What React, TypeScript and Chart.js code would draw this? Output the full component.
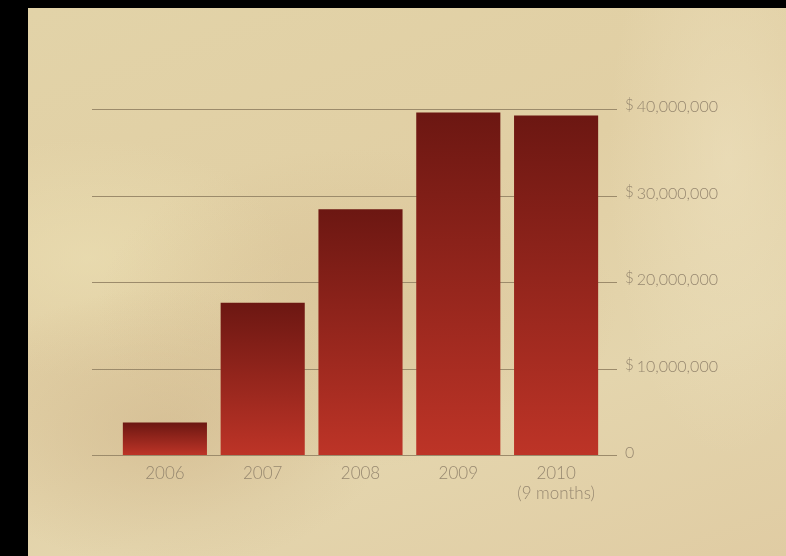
import React, { useEffect, useRef } from "react";
import { Chart, registerables } from "chart.js";

Chart.register(...registerables);

const categories: (string | string[])[] = ["2006", "2007", "2008", "2009", ["2010", "(9 months)"]];
const revenue: number[] = [3750000, 17600000, 28400000, 39600000, 39250000];
const yTickValues: number[] = [0, 10000000, 20000000, 30000000, 40000000];
const yTickNumbers: string[] = ["0", "10,000,000", "20,000,000", "30,000,000", "40,000,000"];
const yTickPrefix: string[] = ["", "$", "$", "$", "$"];

const TEXT = "#978870";
const GRID = "#9c8b6b";
const FONT = "Lato, 'Open Sans', sans-serif";

const gridPlugin = {
  id: "extGrid",
  beforeDatasetsDraw(chart: any) {
    const { ctx, chartArea, scales } = chart;
    const y = scales.y;
    ctx.save();
    ctx.strokeStyle = GRID;
    ctx.lineWidth = 1.2;
    yTickValues.forEach((v) => {
      const py = Math.round(y.getPixelForValue(v)) + 0.5;
      ctx.beginPath();
      ctx.moveTo(chartArea.left - 24, py);
      ctx.lineTo(chartArea.right + 12, py);
      ctx.stroke();
    });
    ctx.restore();
  },
  afterDraw(chart: any) {
    const { ctx, chartArea, scales } = chart;
    const y = scales.y;
    ctx.save();
    ctx.fillStyle = TEXT;
    ctx.textBaseline = "alphabetic";
    ctx.textAlign = "left";
    yTickValues.forEach((v, i) => {
      const py = y.getPixelForValue(v);
      let x = chartArea.right + 20;
      const pre = yTickPrefix[i];
      if (pre) {
        ctx.font = `300 15px ${FONT}`;
        ctx.fillText(pre, x, py + 1);
        x += ctx.measureText(pre).width + 3;
      }
      ctx.font = `300 16px ${FONT}`;
      ctx.fillText(yTickNumbers[i], x, py + 3);
    });
    ctx.restore();
  },
};

export default function App() {
  const ref = useRef<HTMLCanvasElement | null>(null);

  useEffect(() => {
    document.body.style.margin = "0";
    const canvas = ref.current!;
    const chart = new Chart(canvas, {
      type: "bar",
      data: {
        labels: categories,
        datasets: [
          {
            data: revenue,
            borderWidth: 0,
            barPercentage: 0.86,
            categoryPercentage: 1,
            backgroundColor: (c: any) => {
              const ch = c.chart;
              const ys = ch.scales && ch.scales.y;
              if (!ys || !ch.chartArea) return "#9a2a1f";
              const v = revenue[c.dataIndex] ?? 0;
              const top = ys.getPixelForValue(v);
              const bot = ys.getPixelForValue(0);
              const g = ch.ctx.createLinearGradient(0, top, 0, bot);
              g.addColorStop(0, "#6c1712");
              g.addColorStop(1, "#bd3427");
              return g;
            },
          },
        ],
      },
      options: {
        animation: false,
        responsive: false,
        maintainAspectRatio: false,
        layout: { padding: { left: 116, top: 109, right: 0, bottom: 0 } },
        plugins: { legend: { display: false }, tooltip: { enabled: false } },
        scales: {
          x: {
            grid: { display: false },
            border: { display: false },
            ticks: {
              color: TEXT,
              padding: 1,
              font: { family: FONT, size: 17, weight: "300" as any, lineHeight: 1.15 },
              maxRotation: 0,
              autoSkip: false,
            },
            afterFit: (s: any) => {
              s.height = 101;
            },
          },
          y: {
            position: "right",
            min: 0,
            max: 40000000,
            grid: { display: false },
            border: { display: false },
            afterBuildTicks: (s: any) => {
              s.ticks = yTickValues.map((v) => ({ value: v }));
            },
            ticks: { display: false },
            afterFit: (s: any) => {
              s.width = 181;
            },
          },
        },
      },
      plugins: [gridPlugin],
    });
    return () => chart.destroy();
  }, []);

  return (
    <div style={{ position: "relative", width: 786, height: 556, background: "#000", overflow: "hidden" }}>
      <div
        style={{
          position: "absolute",
          left: 28,
          top: 8,
          right: 0,
          bottom: 0,
          background:
            "radial-gradient(ellipse 220px 140px at 140px 420px, rgba(205,178,135,0.55), rgba(205,178,135,0) 100%)," +
            "radial-gradient(ellipse 260px 160px at 330px 300px, rgba(210,185,140,0.45), rgba(210,185,140,0) 100%)," +
            "radial-gradient(ellipse 120px 300px at 700px 150px, rgba(240,228,195,0.5), rgba(240,228,195,0) 100%)," +
            "radial-gradient(ellipse 200px 120px at 60px 250px, rgba(236,224,180,0.6), rgba(236,224,180,0) 100%)," +
            "linear-gradient(160deg, #e2d3a8 0%, #e1cfa4 40%, #e4d5ad 70%, #e0cca3 100%)",
        }}
      />
      <canvas ref={ref} width={786} height={556} style={{ position: "absolute", left: 0, top: 0, width: 786, height: 556 }} />
    </div>
  );
}
